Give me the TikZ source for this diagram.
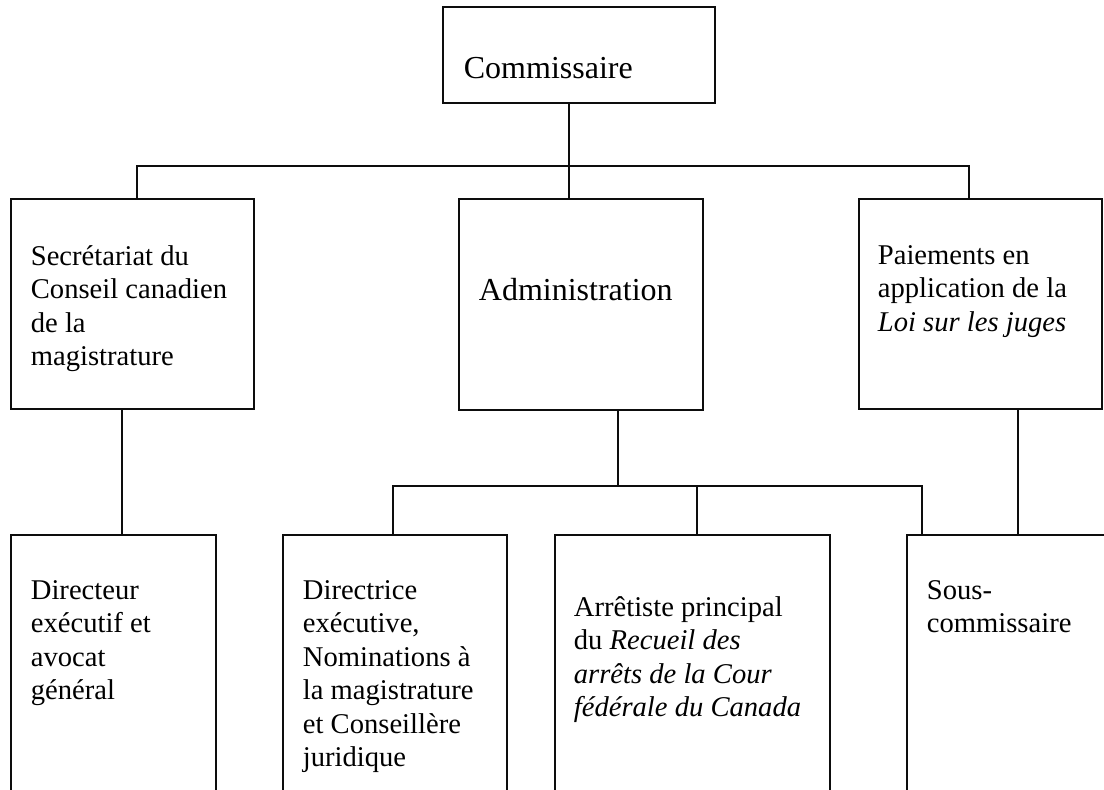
\documentclass[tikz,border=0pt]{standalone}
\usepackage{fontspec}
\setmainfont{Liberation Serif}
\usepackage{tikz}
\usetikzlibrary{calc, positioning}
\definecolor{mainBlack}{gray}{0.05}

\begin{document}
\begin{tikzpicture}[x=0.5pt, y=-0.5pt, line width=0.9pt,
    unit/.style={draw=mainBlack, anchor=north west, inner sep=0pt},
    txt/.style={anchor=north west, inner sep=0pt, align=left, font=\fontsize{14.3}{16.75}\selectfont, execute at begin node=\strut},
    bigtxt/.style={txt, font=\fontsize{16}{18.4}\selectfont}]
    \useasboundingbox (0,0) rectangle (1104,790);
    \clip (0,0) rectangle (1104,790);

    \node[unit, minimum width=136pt, minimum height=48pt] (comm) at (442,6) {};
    \node[bigtxt] (commT) at (463,52) {Commissaire};

    \node[unit, minimum width=121.5pt, minimum height=105pt] (secr) at (10,198) {};
    \node[txt] (secrT) at (30,244.5) {Secrétariat du\\Conseil canadien\\de la\\magistrature};
    \node[unit, minimum width=122pt, minimum height=105.5pt] (admin) at (458,198) {};
    \node[bigtxt] (adminT) at (478,274) {Administration};
    \node[unit, minimum width=121.5pt, minimum height=105pt] (paie) at (858,198) {};
    \node[txt] (paieT) at (877,244.5) {Paiements en\\application de la\\\textit{Loi sur les juges}};

    \node[unit, minimum width=102.5pt, minimum height=150pt] (dirx) at (10,534) {};
    \node[txt] (dirxT) at (30,579.5) {Directeur\\exécutif et\\avocat\\général};
    \node[unit, minimum width=112pt, minimum height=150pt] (dirn) at (282,534) {};
    \node[txt] (dirnT) at (302,579.5) {Directrice\\exécutive,\\Nominations à\\la magistrature\\et Conseillère\\juridique};
    \node[unit, minimum width=137.5pt, minimum height=150pt] (arret) at (554,534) {};
    \node[txt] (arretT) at (573,595.5) {Arrêtiste principal\\du \textit{Recueil des}\\\textit{arrêts de la Cour}\\\textit{fédérale du Canada}};
    \node[unit, minimum width=120pt, minimum height=150pt] (sous) at (906,534) {};
    \node[txt] (sousT) at (926,579.5) {Sous-\\commissaire};

    \coordinate (busA) at (137,166);
    \coordinate (busB) at (969,166);
    \coordinate (c0) at (569,166);
    \draw[mainBlack] (comm.south -| c0) -- (admin.north -| c0);
    \draw[mainBlack] (busA |- secr.north) -- (busA) -- (busB) -- (busB |- paie.north);

    \coordinate (s1) at (122,470);
    \coordinate (busC) at (393,486);
    \coordinate (busD) at (922,486);
    \coordinate (a1) at (618,486);
    \coordinate (a2) at (697,486);
    \coordinate (p1) at (1018,470);
    \draw[mainBlack] (secr.south -| s1) -- (dirx.north -| s1);
    \draw[mainBlack] (admin.south -| a1) -- (a1);
    \draw[mainBlack] (busC |- dirn.north) -- (busC) -- (busD) -- (busD |- sous.north);
    \draw[mainBlack] (a2) -- (arret.north -| a2);
    \draw[mainBlack] (paie.south -| p1) -- (sous.north -| p1);
\end{tikzpicture}
\end{document}
